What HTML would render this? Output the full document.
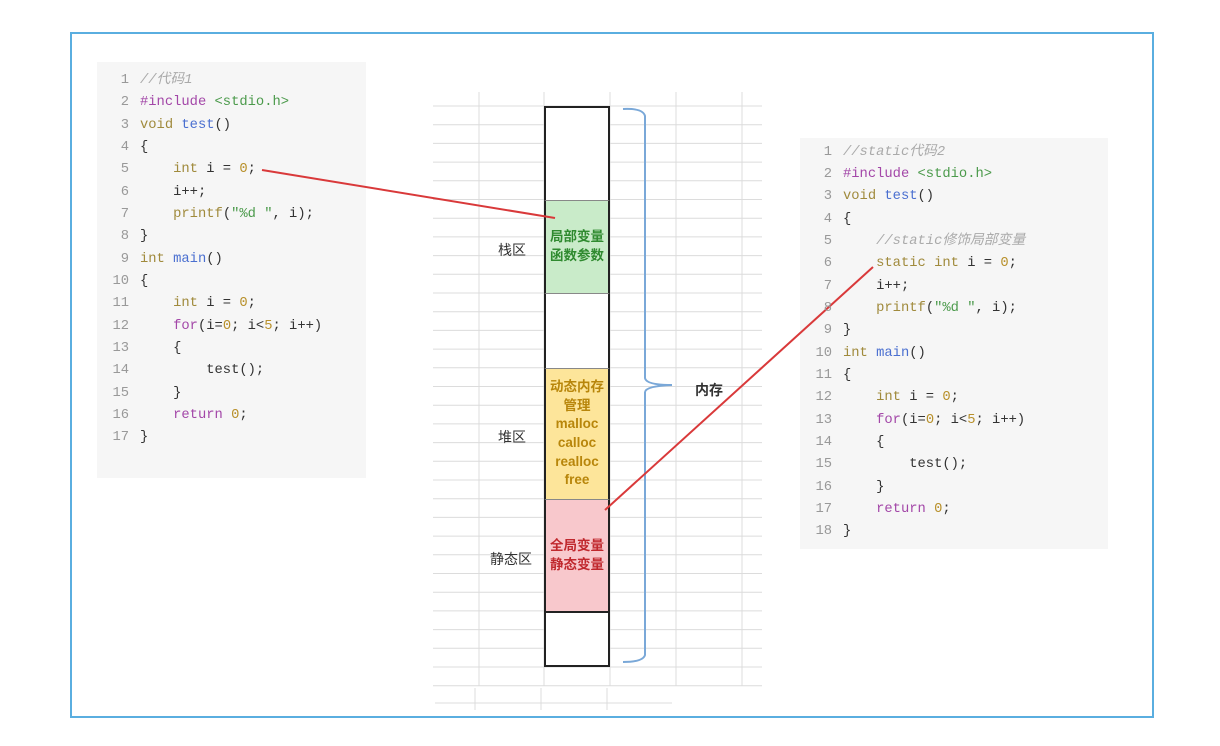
<!DOCTYPE html>
<html><head><meta charset="utf-8"><style>
*{margin:0;padding:0;box-sizing:border-box}
body{width:1220px;height:746px;background:#fff;position:relative;overflow:hidden;font-family:"Liberation Sans","Noto Sans CJK SC",sans-serif}
.frame{position:absolute;left:70px;top:32px;width:1084px;height:686px;border:2.5px solid #5aaee0}
.code{position:absolute;background:#f6f6f6}
.ln{position:absolute;font-family:"Liberation Mono","Noto Sans CJK SC",monospace;font-size:13.8px;white-space:pre;color:#333;line-height:18px}
.n{position:absolute;font-family:"Liberation Mono",monospace;font-size:13.8px;color:#999;text-align:right;width:30px;line-height:18px}
.k{color:#a08a3c}.f{color:#4a6fd0}.p{color:#a347a8}.s{color:#4b9a4b}.c{color:#aaa;font-style:italic}.o{color:#b8902a}.r{color:#a347a8}
.cell{position:absolute;left:544px;width:66px;border-left:2px solid #222;border-right:2px solid #222;text-align:center;font-size:13.5px;font-weight:bold;line-height:18.6px;display:flex;flex-direction:column;justify-content:center}
.lab{position:absolute;font-size:14px;color:#333}
</style></head><body>
<div class="frame"></div>
<svg width="1220" height="746" style="position:absolute;left:0;top:0">
<g stroke="#dcdcdc" stroke-width="1">
<line x1="433" y1="106" x2="762" y2="106"/><line x1="433" y1="124.7" x2="762" y2="124.7"/><line x1="433" y1="143.4" x2="762" y2="143.4"/><line x1="433" y1="162.1" x2="762" y2="162.1"/><line x1="433" y1="180.8" x2="762" y2="180.8"/><line x1="433" y1="199.5" x2="762" y2="199.5"/><line x1="433" y1="218.2" x2="762" y2="218.2"/><line x1="433" y1="236.9" x2="762" y2="236.9"/><line x1="433" y1="255.6" x2="762" y2="255.6"/><line x1="433" y1="274.3" x2="762" y2="274.3"/><line x1="433" y1="293" x2="762" y2="293"/><line x1="433" y1="311.7" x2="762" y2="311.7"/><line x1="433" y1="330.4" x2="762" y2="330.4"/><line x1="433" y1="349.1" x2="762" y2="349.1"/><line x1="433" y1="367.8" x2="762" y2="367.8"/><line x1="433" y1="386.5" x2="762" y2="386.5"/><line x1="433" y1="405.2" x2="762" y2="405.2"/><line x1="433" y1="423.9" x2="762" y2="423.9"/><line x1="433" y1="442.6" x2="762" y2="442.6"/><line x1="433" y1="461.3" x2="762" y2="461.3"/><line x1="433" y1="480" x2="762" y2="480"/><line x1="433" y1="498.7" x2="762" y2="498.7"/><line x1="433" y1="517.4" x2="762" y2="517.4"/><line x1="433" y1="536.1" x2="762" y2="536.1"/><line x1="433" y1="554.8" x2="762" y2="554.8"/><line x1="433" y1="573.5" x2="762" y2="573.5"/><line x1="433" y1="592.2" x2="762" y2="592.2"/><line x1="433" y1="610.9" x2="762" y2="610.9"/><line x1="433" y1="629.6" x2="762" y2="629.6"/><line x1="433" y1="648.3" x2="762" y2="648.3"/><line x1="433" y1="667" x2="762" y2="667"/><line x1="433" y1="685.7" x2="762" y2="685.7"/>
<line x1="479" y1="92" x2="479" y2="686"/><line x1="544" y1="92" x2="544" y2="686"/><line x1="610" y1="92" x2="610" y2="686"/><line x1="676" y1="92" x2="676" y2="686"/><line x1="742" y1="92" x2="742" y2="686"/>
<line x1="435" y1="703" x2="672" y2="703"/><line x1="475" y1="688" x2="475" y2="710"/><line x1="541" y1="688" x2="541" y2="710"/><line x1="607" y1="688" x2="607" y2="710"/>
</g>
</svg>
<div class="code" style="left:97px;top:62px;width:269px;height:416px"></div>
<div class="code" style="left:800px;top:138px;width:308px;height:411px"></div>

<div class="cell" style="top:106px;height:94px;border-top:2px solid #222;background:#fff"></div>
<div class="cell" style="top:200px;height:93px;background:#c9ebc9;color:#2f8a2f;border-top:1px solid #888">局部变量<br>函数参数</div>
<div class="cell" style="top:293px;height:75px;background:#fff;border-top:1px solid #888"></div>
<div class="cell" style="top:368px;height:131px;background:#fde59a;color:#b8860b;border-top:1px solid #888">动态内存<br>管理<br>malloc<br>calloc<br>realloc<br>free</div>
<div class="cell" style="top:499px;height:112px;background:#f8c8cc;color:#c0282d;border-top:1px solid #888">全局变量<br>静态变量</div>
<div class="cell" style="top:611px;height:56px;background:#fff;border-top:2px solid #222;border-bottom:2px solid #222"></div>

<div class="lab" style="left:498px;top:240px">栈区</div>
<div class="lab" style="left:498px;top:427px">堆区</div>
<div class="lab" style="left:490px;top:549px">静态区</div>
<div class="lab" style="left:695px;top:380px;font-weight:bold">内存</div>

<svg width="1220" height="746" style="position:absolute;left:0;top:0">
<path d="M623 109 Q643 108 645 116 L645 378 Q646 385 672 385 M645 392 Q646 386 672 385 M645 392 L645 655 Q643 662 623 662" fill="none" stroke="#7aa8d8" stroke-width="2"/>
<line x1="262" y1="170" x2="555" y2="218" stroke="#d9393a" stroke-width="2"/>
<line x1="873" y1="267" x2="605" y2="510" stroke="#d9393a" stroke-width="2"/>
</svg>

<div class="n" style="left:99px;top:72px">1</div><div class="ln" style="left:140px;top:72px"><span class="c">//代码1</span></div>
<div class="n" style="left:99px;top:94px">2</div><div class="ln" style="left:140px;top:94px"><span class="p">#include</span> <span class="s">&lt;stdio.h&gt;</span></div>
<div class="n" style="left:99px;top:117px">3</div><div class="ln" style="left:140px;top:117px"><span class="k">void</span> <span class="f">test</span>()</div>
<div class="n" style="left:99px;top:139px">4</div><div class="ln" style="left:140px;top:139px">{</div>
<div class="n" style="left:99px;top:161px">5</div><div class="ln" style="left:140px;top:161px">    <span class="k">int</span> i = <span class="o">0</span>;</div>
<div class="n" style="left:99px;top:184px">6</div><div class="ln" style="left:140px;top:184px">    i++;</div>
<div class="n" style="left:99px;top:206px">7</div><div class="ln" style="left:140px;top:206px">    <span class="k">printf</span>(<span class="s">"%d "</span>, i);</div>
<div class="n" style="left:99px;top:228px">8</div><div class="ln" style="left:140px;top:228px">}</div>
<div class="n" style="left:99px;top:251px">9</div><div class="ln" style="left:140px;top:251px"><span class="k">int</span> <span class="f">main</span>()</div>
<div class="n" style="left:99px;top:273px">10</div><div class="ln" style="left:140px;top:273px">{</div>
<div class="n" style="left:99px;top:295px">11</div><div class="ln" style="left:140px;top:295px">    <span class="k">int</span> i = <span class="o">0</span>;</div>
<div class="n" style="left:99px;top:318px">12</div><div class="ln" style="left:140px;top:318px">    <span class="r">for</span>(i=<span class="o">0</span>; i&lt;<span class="o">5</span>; i++)</div>
<div class="n" style="left:99px;top:340px">13</div><div class="ln" style="left:140px;top:340px">    {</div>
<div class="n" style="left:99px;top:362px">14</div><div class="ln" style="left:140px;top:362px">        test();</div>
<div class="n" style="left:99px;top:385px">15</div><div class="ln" style="left:140px;top:385px">    }</div>
<div class="n" style="left:99px;top:407px">16</div><div class="ln" style="left:140px;top:407px">    <span class="r">return</span> <span class="o">0</span>;</div>
<div class="n" style="left:99px;top:429px">17</div><div class="ln" style="left:140px;top:429px">}</div>

<div class="n" style="left:802px;top:144px">1</div><div class="ln" style="left:843px;top:144px"><span class="c">//static代码2</span></div>
<div class="n" style="left:802px;top:166px">2</div><div class="ln" style="left:843px;top:166px"><span class="p">#include</span> <span class="s">&lt;stdio.h&gt;</span></div>
<div class="n" style="left:802px;top:188px">3</div><div class="ln" style="left:843px;top:188px"><span class="k">void</span> <span class="f">test</span>()</div>
<div class="n" style="left:802px;top:211px">4</div><div class="ln" style="left:843px;top:211px">{</div>
<div class="n" style="left:802px;top:233px">5</div><div class="ln" style="left:843px;top:233px">    <span class="c">//static修饰局部变量</span></div>
<div class="n" style="left:802px;top:255px">6</div><div class="ln" style="left:843px;top:255px">    <span class="k">static</span> <span class="k">int</span> i = <span class="o">0</span>;</div>
<div class="n" style="left:802px;top:278px">7</div><div class="ln" style="left:843px;top:278px">    i++;</div>
<div class="n" style="left:802px;top:300px">8</div><div class="ln" style="left:843px;top:300px">    <span class="k">printf</span>(<span class="s">"%d "</span>, i);</div>
<div class="n" style="left:802px;top:322px">9</div><div class="ln" style="left:843px;top:322px">}</div>
<div class="n" style="left:802px;top:345px">10</div><div class="ln" style="left:843px;top:345px"><span class="k">int</span> <span class="f">main</span>()</div>
<div class="n" style="left:802px;top:367px">11</div><div class="ln" style="left:843px;top:367px">{</div>
<div class="n" style="left:802px;top:389px">12</div><div class="ln" style="left:843px;top:389px">    <span class="k">int</span> i = <span class="o">0</span>;</div>
<div class="n" style="left:802px;top:412px">13</div><div class="ln" style="left:843px;top:412px">    <span class="r">for</span>(i=<span class="o">0</span>; i&lt;<span class="o">5</span>; i++)</div>
<div class="n" style="left:802px;top:434px">14</div><div class="ln" style="left:843px;top:434px">    {</div>
<div class="n" style="left:802px;top:456px">15</div><div class="ln" style="left:843px;top:456px">        test();</div>
<div class="n" style="left:802px;top:479px">16</div><div class="ln" style="left:843px;top:479px">    }</div>
<div class="n" style="left:802px;top:501px">17</div><div class="ln" style="left:843px;top:501px">    <span class="r">return</span> <span class="o">0</span>;</div>
<div class="n" style="left:802px;top:523px">18</div><div class="ln" style="left:843px;top:523px">}</div>
</body></html>
